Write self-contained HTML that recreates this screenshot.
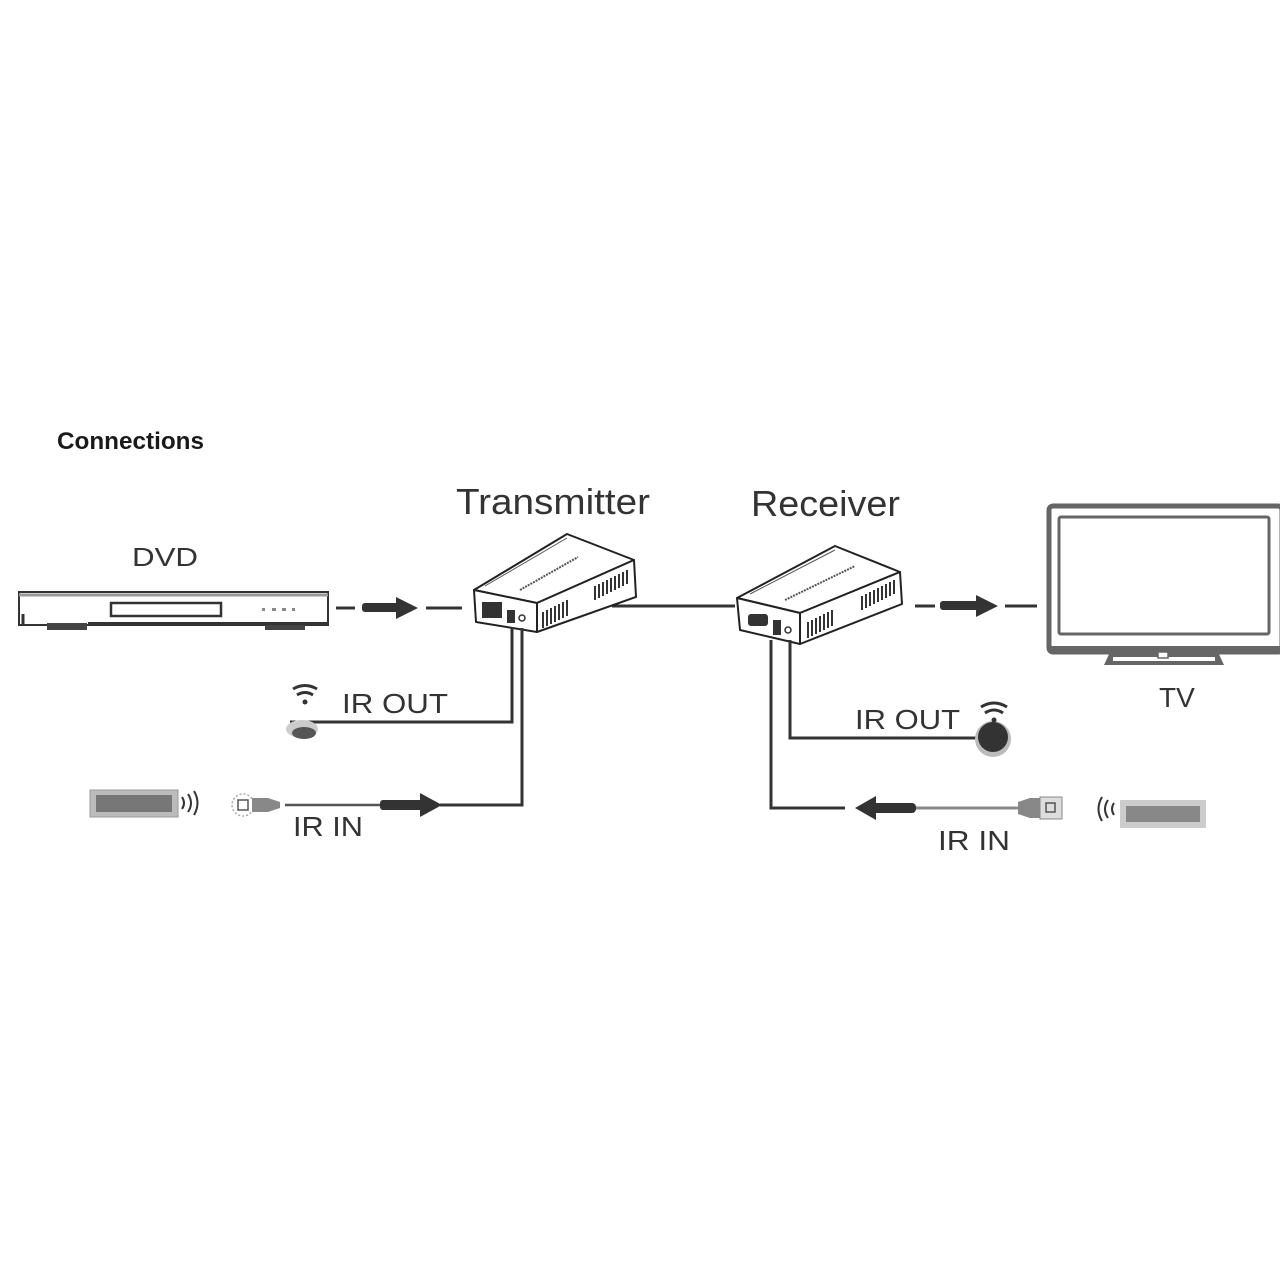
<!DOCTYPE html>
<html><head><meta charset="utf-8"><style>
html,body{margin:0;padding:0;background:#fff;}
svg{display:block;}
</style></head><body>
<svg width="1280" height="1280" viewBox="0 0 1280 1280" xmlns="http://www.w3.org/2000/svg">
<rect width="1280" height="1280" fill="#fff"/>
<g font-family="Liberation Sans, sans-serif">
<text x="57" y="449" font-size="24" font-weight="bold" fill="#1a1a1a" textLength="147" lengthAdjust="spacingAndGlyphs">Connections</text>
<text x="456" y="514" font-size="36" fill="#333" textLength="194" lengthAdjust="spacingAndGlyphs">Transmitter</text>
<text x="751" y="516" font-size="36" fill="#333" textLength="149" lengthAdjust="spacingAndGlyphs">Receiver</text>
<text x="132" y="566" font-size="26" fill="#333" textLength="66" lengthAdjust="spacingAndGlyphs">DVD</text>
<text x="1159" y="707" font-size="28" fill="#333">TV</text>
<text x="342" y="713" font-size="28" fill="#333" textLength="106" lengthAdjust="spacingAndGlyphs">IR OUT</text>
<text x="293" y="836" font-size="28" fill="#333" textLength="70" lengthAdjust="spacingAndGlyphs">IR IN</text>
<text x="855" y="729" font-size="28" fill="#333" textLength="105" lengthAdjust="spacingAndGlyphs">IR OUT</text>
<text x="938" y="850" font-size="28" fill="#333" textLength="72" lengthAdjust="spacingAndGlyphs">IR IN</text>
</g>

<!-- DVD -->
<g stroke="#333" fill="none">
<rect x="19" y="592" width="309" height="33" stroke-width="2"/>
<line x1="19" y1="595" x2="328" y2="595" stroke="#999" stroke-width="3"/>
<rect x="111" y="603" width="110" height="13" stroke-width="2.5"/>
<line x1="23" y1="614" x2="23" y2="625" stroke-width="3"/>
</g>
<rect x="47" y="623" width="40" height="7" fill="#444"/>
<rect x="265" y="623" width="40" height="7" fill="#444"/>
<rect x="88" y="622" width="240" height="3" fill="#333"/>
<g fill="#888"><rect x="262" y="608" width="3" height="3"/><rect x="272" y="608" width="4" height="3"/><rect x="282" y="608" width="4" height="3"/><rect x="292" y="608" width="3" height="3"/></g>

<g stroke="#333" stroke-width="3">
<line x1="336" y1="608" x2="355" y2="608"/>
<line x1="426" y1="608" x2="462" y2="608"/>
<line x1="612" y1="606" x2="735" y2="606"/>
<line x1="915" y1="606" x2="935" y2="606"/>
<line x1="1005" y1="606" x2="1037" y2="606"/>
</g>
<rect x="362" y="603" width="38" height="9" rx="3" fill="#333"/>
<polygon points="396,597 418,608 396,619" fill="#333"/>
<rect x="940" y="601" width="40" height="9" rx="3" fill="#333"/>
<polygon points="976,595 998,606 976,617" fill="#333"/>

<!-- Transmitter box -->
<g stroke="#222" stroke-width="2" stroke-linejoin="round" fill="#fff">
<polygon points="474,590 567,534 634,560 537,603"/>
<polygon points="474,590 537,603 537,632 476,622"/>
<polygon points="537,603 634,560 636,597 537,632"/>
</g>
<line x1="485" y1="586" x2="567" y2="538" stroke="#555" stroke-width="1"/>
<line x1="520" y1="590" x2="578" y2="557" stroke="#555" stroke-width="2" stroke-dasharray="2,1"/>
<rect x="482" y="602" width="20" height="16" fill="#333"/>
<rect x="507" y="610" width="8" height="13" fill="#333"/>
<circle cx="522" cy="618" r="3" fill="none" stroke="#333" stroke-width="1.5"/>
<g stroke="#333" stroke-width="2">
<path d="M543 612 v16 M547 610 v16 M551 608 v16 M555 606 v16 M559 604 v16 M563 602 v16 M567 600 v16"/>
<path d="M595 586 v14 M599 584 v14 M603 582 v14 M607 580 v14 M611 578 v14 M615 576 v14 M619 574 v14 M623 572 v14 M627 570 v14"/>
</g>

<!-- Receiver box -->
<g stroke="#222" stroke-width="2" stroke-linejoin="round" fill="#fff">
<polygon points="737,598 835,546 900,572 800,613"/>
<polygon points="737,598 800,613 800,644 740,630"/>
<polygon points="800,613 900,572 902,604 800,644"/>
</g>
<line x1="750" y1="594" x2="835" y2="550" stroke="#555" stroke-width="1"/>
<line x1="785" y1="600" x2="855" y2="566" stroke="#555" stroke-width="2" stroke-dasharray="2,1"/>
<rect x="748" y="614" width="20" height="12" rx="3" fill="#333"/>
<rect x="773" y="620" width="8" height="15" fill="#333"/>
<circle cx="788" cy="630" r="3" fill="none" stroke="#333" stroke-width="1.5"/>
<g stroke="#333" stroke-width="2">
<path d="M808 622 v16 M812 620 v16 M816 618 v16 M820 616 v16 M824 614 v16 M828 612 v16 M832 610 v16"/>
<path d="M862 596 v14 M866 594 v14 M870 592 v14 M874 590 v14 M878 588 v14 M882 586 v14 M886 584 v14 M890 582 v14 M894 580 v14"/>
</g>

<!-- TV -->
<rect x="1049" y="506" width="233" height="146" rx="4" fill="none" stroke="#666" stroke-width="5"/>
<rect x="1059" y="517" width="210" height="117" rx="2" fill="none" stroke="#666" stroke-width="3"/>
<rect x="1049" y="646" width="233" height="7" fill="#666"/>
<polygon points="1110,652 1218,652 1224,665 1104,665" fill="#666"/>
<rect x="1113" y="657" width="102" height="4" fill="#fff"/>
<rect x="1158" y="652" width="10" height="6" fill="#fff" stroke="#666" stroke-width="1.5"/>

<!-- Tx IR lines -->
<g stroke="#333" stroke-width="3" fill="none">
<polyline points="512,628 512,722 290,722"/>
<polyline points="522,628 522,805 440,805"/>
</g>
<line x1="285" y1="805" x2="380" y2="805" stroke="#555" stroke-width="2.5"/>
<rect x="380" y="800" width="44" height="10" rx="3" fill="#333"/>
<polygon points="420,793 442,805 420,817" fill="#333"/>
<g fill="none" stroke="#333" stroke-width="3">
<path d="M293 689 q12 -7 24 0"/><path d="M297 695 q8 -5 16 0"/>
</g>
<circle cx="305" cy="702" r="2.5" fill="#333"/>
<ellipse cx="302" cy="729" rx="16" ry="9" fill="#ccc"/>
<ellipse cx="304" cy="733" rx="12" ry="6" fill="#555"/>
<rect x="90" y="790" width="88" height="27" fill="#bbb" stroke="#999"/>
<rect x="96" y="795" width="76" height="17" fill="#777"/>
<g fill="none" stroke="#333" stroke-width="2">
<path d="M182 797 q4 6 0 12"/><path d="M188 794 q6 9 0 18"/><path d="M194 791 q7 12 0 24"/>
</g>
<circle cx="243" cy="805" r="11" fill="none" stroke="#aaa" stroke-width="1.5" stroke-dasharray="2,2"/>
<rect x="238" y="800" width="10" height="10" fill="none" stroke="#555" stroke-width="1.5"/>
<polygon points="252,798 268,798 280,802 280,808 268,812 252,812" fill="#888"/>

<!-- Rx IR lines -->
<g stroke="#333" stroke-width="3" fill="none">
<polyline points="790,640 790,738 985,738"/>
<polyline points="771,640 771,808 845,808"/>
</g>
<line x1="915" y1="808" x2="1030" y2="808" stroke="#888" stroke-width="3"/>
<polygon points="876,796 855,808 876,820" fill="#333"/>
<rect x="872" y="803" width="44" height="10" rx="4" fill="#333"/>
<circle cx="993" cy="739" r="18" fill="#bbb"/>
<circle cx="993" cy="737" r="15" fill="#333"/>
<g fill="none" stroke="#333" stroke-width="3">
<path d="M981 707 q13 -8 26 0"/><path d="M985 713 q9 -6 18 0"/>
</g>
<circle cx="994" cy="720" r="2.5" fill="#333"/>
<polygon points="1018,802 1030,798 1040,798 1040,818 1030,818 1018,814" fill="#888"/>
<rect x="1040" y="797" width="22" height="22" fill="#ddd" stroke="#888"/>
<rect x="1046" y="803" width="9" height="9" fill="none" stroke="#555" stroke-width="1.5"/>
<g fill="none" stroke="#333" stroke-width="2">
<path d="M1114 803 q-4 6 0 12"/><path d="M1108 800 q-6 9 0 18"/><path d="M1102 797 q-7 12 0 24"/>
</g>
<rect x="1120" y="800" width="86" height="28" fill="#ccc"/>
<rect x="1126" y="806" width="74" height="16" fill="#888"/>
</svg>
</body></html>
